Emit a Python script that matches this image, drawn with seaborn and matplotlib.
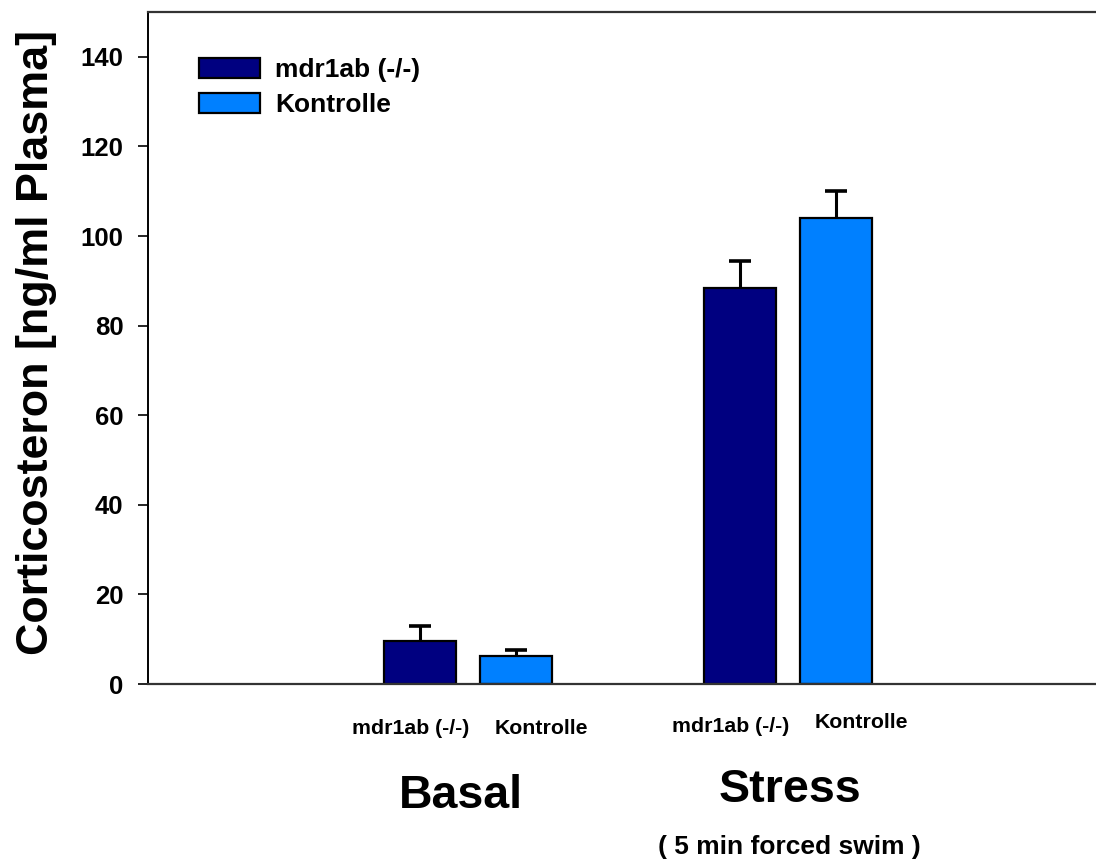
import numpy as np
import pandas as pd
import matplotlib
matplotlib.use("Agg")
import matplotlib.pyplot as plt
import matplotlib.transforms as mtransforms
import seaborn as sns

# Corticosterone plasma levels, mean and upper error
groups = ["Basal", "Stress"]
genotypes = ["mdr1ab (-/-)", "Kontrolle"]
mean_mdr1ab = [9.6, 88.4]
mean_kontrolle = [6.25, 104.0]
err_mdr1ab = [3.4, 6.0]
err_kontrolle = [1.45, 6.1]
y_ticks = [0, 20, 40, 60, 80, 100, 120, 140]
y_label = "Corticosteron [ng/ml Plasma]"
subtitle = "( 5 min forced swim )"

colors = ["#000080", "#0080FF"]

df = pd.DataFrame({
    "group": groups * 2,
    "genotype": [genotypes[0]] * 2 + [genotypes[1]] * 2,
    "value": mean_mdr1ab + mean_kontrolle,
})
errors = [err_mdr1ab, err_kontrolle]

sns.set_style("ticks")
plt.rcParams["font.family"] = ["Liberation Sans", "DejaVu Sans"]
plt.rcParams["font.weight"] = "bold"
for key in ["text.color", "axes.labelcolor", "xtick.color", "ytick.color"]:
    plt.rcParams[key] = "black"

W, H = 1096, 861
fig = plt.figure(figsize=(W / 100, H / 100), dpi=100)
ax = fig.add_axes([148 / W, 1 - 684 / H, 1 - 148 / W, (684 - 12) / H])

sns.barplot(data=df, x="group", y="value", hue="genotype", hue_order=genotypes,
            order=groups, palette=colors, saturation=1, width=0.6, gap=0.25,
            errorbar=None, edgecolor="black", linewidth=1.6, ax=ax)

# upper error bars on each bar (only the upper cap is kept)
for cont, err in zip(ax.containers, errors):
    xs = [p.get_x() + p.get_width() / 2 for p in cont]
    ys = [p.get_height() for p in cont]
    eb = ax.errorbar(xs, ys, yerr=[np.zeros(len(err)), err], fmt="none",
                     ecolor="black", elinewidth=2.2, capsize=8, capthick=2.6,
                     zorder=1)
    eb[1][0].set_visible(False)

ax.set_xlim(-1.0, 1.9625)
ax.set_ylim(0, 150)
ax.set_yticks(y_ticks)
ax.set_yticklabels([str(t) for t in y_ticks], fontsize=18.5, fontweight="bold")
ax.tick_params(axis="y", length=7.2, width=1.2, pad=10.5, color="black")
ax.set_xticks([])
ax.set_xlabel("")
ax.set_ylabel("")

for side in ["top", "bottom"]:
    ax.spines[side].set_color("#333333")
    ax.spines[side].set_linewidth(1.6)
ax.spines["left"].set_color("black")
ax.spines["left"].set_linewidth(1.4)
ax.spines["right"].set_visible(False)

handles, labels = ax.get_legend_handles_labels()
ax.legend(handles, labels, loc="upper left",
          bbox_to_anchor=(199 / W, 1 - 58 / H), bbox_transform=fig.transFigure,
          frameon=False, borderpad=0, borderaxespad=0, handletextpad=0.57,
          handlelength=2.31, handleheight=0.76, labelspacing=0.43,
          prop={"size": 19, "weight": "bold"})

fig.text(37 / W, 1 - 342 / H, y_label, rotation=90, ha="center", va="center",
         fontsize=32.3, fontweight="bold")

# category labels under the axis
trans = mtransforms.blended_transform_factory(ax.transData, fig.transFigure)
label_offsets = [-0.18, 0.228]
label_baselines = [[734, 734], [732, 728]]
for gi in range(len(groups)):
    for hi, name in enumerate(genotypes):
        ax.text(gi + label_offsets[hi], 1 - label_baselines[gi][hi] / H, name,
                transform=trans, ha="center", va="baseline",
                fontsize=15.3, fontweight="bold")

title_offsets = [-0.022, 0.005]
title_baselines = [808, 802]
for gi, g in enumerate(groups):
    ax.text(gi + title_offsets[gi], 1 - title_baselines[gi] / H, g,
            transform=trans, ha="center", va="baseline",
            fontsize=33.5, fontweight="bold")
ax.text(1 + title_offsets[1], 1 - 854 / H, subtitle, transform=trans,
        ha="center", va="baseline", fontsize=19, fontweight="bold")

fig.savefig("out.png", dpi=100)
